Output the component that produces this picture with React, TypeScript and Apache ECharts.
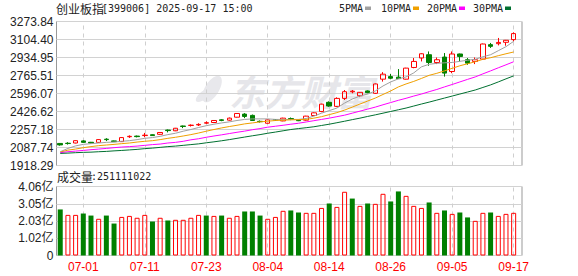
import React, { useEffect, useRef } from 'react';
import * as echarts from 'echarts';

const dates = ['06-26','06-27','06-30','07-01','07-02','07-03','07-04','07-07','07-08','07-09','07-10','07-11','07-14','07-15','07-16','07-17','07-18','07-21','07-22','07-23','07-24','07-25','07-28','07-29','07-30','07-31','08-01','08-04','08-05','08-06','08-07','08-08','08-11','08-12','08-13','08-14','08-15','08-18','08-19','08-20','08-21','08-22','08-25','08-26','08-27','08-28','08-29','09-01','09-02','09-03','09-04','09-05','09-08','09-09','09-10','09-11','09-12','09-15','09-16','09-17'];

const opens = [2126,2128,2130,2150,2137,2136,2166,2150,2143,2189,2195,2200,2208,2212,2252,2245,2290,2295,2300,2317,2323,2348,2345,2373,2402,2390,2334,2316,2350,2338,2360,2345,2345,2389,2427,2513,2475,2550,2612,2575,2620,2598,2731,2755,2750,2731,2841,2930,2961,2888,2939,2803,2968,2914,2898,2920,3056,3065,3078,3103];
const closes = [2112,2125,2152,2136,2130,2162,2162,2143,2181,2193,2190,2204,2200,2229,2247,2269,2286,2298,2305,2321,2342,2343,2364,2408,2380,2342,2331,2348,2346,2364,2353,2340,2383,2414,2496,2478,2550,2613,2618,2607,2604,2686,2778,2740,2736,2835,2898,2970,2888,2914,2788,2968,2945,2882,2914,3062,3040,3077,3097,3160];
const lows = [2105,2115,2127,2132,2126,2132,2148,2140,2140,2178,2183,2184,2197,2208,2230,2242,2270,2285,2290,2310,2318,2335,2340,2370,2364,2338,2322,2313,2342,2335,2345,2336,2341,2386,2420,2471,2468,2535,2598,2562,2598,2592,2708,2730,2733,2728,2834,2898,2857,2873,2755,2787,2898,2866,2873,2915,3025,3049,3046,3087];
const highs = [2130,2138,2155,2156,2140,2165,2175,2153,2184,2202,2200,2225,2211,2232,2257,2272,2294,2305,2316,2334,2345,2354,2370,2411,2411,2398,2342,2352,2356,2368,2370,2350,2386,2418,2500,2522,2560,2629,2629,2610,2625,2690,2797,2780,2826,2838,2930,2975,2992,2935,2977,2992,2972,2930,2935,3066,3072,3119,3100,3172];

const ma5 = [2048,2079,2103,2117,2124,2130,2136,2139,2146,2152,2162,2174,2181,2193,2209,2222,2241,2257,2276,2293,2307,2319,2329,2342,2352,2357,2357,2357,2352,2352,2352,2352,2361,2383,2411,2435,2459,2506,2544,2572,2591,2620,2667,2705,2734,2752,2790,2847,2871,2880,2885,2888,2899,2909,2918,2942,2961,2999,3037,3087];
const ma10 = [2044,2063,2073,2086,2096,2105,2111,2117,2124,2130,2139,2146,2152,2162,2174,2184,2196,2209,2224,2241,2257,2272,2285,2297,2310,2319,2329,2335,2342,2345,2348,2350,2352,2364,2378,2397,2416,2440,2468,2497,2525,2553,2587,2620,2658,2686,2710,2738,2767,2786,2809,2833,2857,2876,2895,2918,2933,2952,2970,2987];
const ma20 = [2039,2048,2054,2060,2067,2073,2079,2086,2092,2096,2101,2108,2115,2120,2130,2136,2146,2160,2170,2184,2196,2207,2219,2231,2242,2255,2266,2279,2288,2297,2307,2316,2328,2340,2352,2364,2378,2392,2411,2430,2449,2468,2490,2511,2532,2551,2572,2591,2613,2634,2658,2681,2705,2729,2752,2781,2809,2838,2866,2895];
const ma30 = [2032,2035,2039,2042,2044,2048,2051,2056,2060,2065,2070,2077,2082,2089,2096,2101,2108,2115,2122,2132,2141,2151,2162,2174,2186,2198,2209,2222,2233,2245,2257,2266,2274,2283,2295,2307,2321,2335,2350,2364,2380,2395,2411,2427,2443,2459,2478,2497,2515,2534,2553,2572,2591,2610,2629,2653,2677,2705,2734,2762];

// volume in 亿 (100 million)
const volumes = [2.71,2.39,2.39,2.47,2.35,2.16,2.35,1.88,2.27,2.33,2.22,2.39,2.00,2.22,2.06,2.10,2.10,2.22,2.39,2.35,2.33,2.35,2.22,2.33,2.59,2.59,2.35,2.16,2.27,2.63,2.65,2.53,2.51,2.51,2.80,3.06,2.86,3.75,3.35,2.92,3.06,3.04,3.63,3.18,3.77,3.51,2.92,2.80,3.12,2.51,2.65,2.45,2.53,2.24,2.04,2.51,2.53,2.33,2.45,2.5111];
const volumeUp = [0,1,1,0,0,1,0,0,1,1,1,1,0,1,0,1,1,1,1,0,1,0,1,1,0,0,0,1,1,1,0,0,1,1,1,0,1,1,0,1,0,1,1,0,0,1,1,1,0,1,0,1,0,0,1,1,0,1,1,1];

const priceTicks = ['1918.29','2087.74','2257.18','2426.62','2596.07','2765.51','2934.95','3104.40','3273.84'];
const volumeTicks = ['0','1.02亿','2.03亿','3.05亿','4.06亿'];
const labelDates = ['07-01','07-11','07-23','08-04','08-14','08-26','09-05','09-17'];
const legendNames = ['5PMA','10PMA','20PMA','30PMA'];

const UP = '#ff0000';
const DOWN = '#008000';
const MA_COLORS = ['#a0a0a0', '#f0a000', '#ff00ff', '#007030'];
const AXIS_FONT = "'Liberation Sans', 'Noto Sans CJK SC', sans-serif";
const MONO_FONT = "'DejaVu Sans Mono', 'Noto Sans CJK SC', monospace";
const CJK_FONT = "'Noto Sans CJK SC', sans-serif";

const frameLeft = 56.5;
const frameWidth = 465.5;
const dataLeft = 56.4;
const dataWidth = 461.1;
const pTop = 21.5;
const pHeight = 144;
const vTop = 186.5;
const vHeight = 69;

function buildOption(): any {
  const markLine = {
    silent: true,
    symbol: ['none', 'none'],
    z: 1,
    label: { show: false },
    lineStyle: { color: '#cfcfcf', type: [4, 4], width: 1 },
    data: labelDates.map((d) => ({ xAxis: d })),
    animation: false,
  };
  const candleData = dates.map((_, i) => [opens[i], closes[i], lows[i], highs[i]]);
  const volData = volumes.map((v, i) => ({
    value: v,
    itemStyle: volumeUp[i]
      ? { color: 'rgba(255,255,255,0)', borderColor: UP, borderWidth: 1 }
      : { color: DOWN, borderColor: DOWN, borderWidth: 0 },
  }));
  const maSeries = [ma5, ma10, ma20, ma30].map((d, k) => ({
    type: 'line',
    name: legendNames[k],
    xAxisIndex: 1,
    yAxisIndex: 1,
    data: d,
    showSymbol: false,
    symbol: 'none',
    z: 3,
    lineStyle: { color: MA_COLORS[k], width: 1 },
  }));

  const legendSwatchX = [365, 413, 459, 505];
  const legendGraphics: any[] = [];
  legendNames.forEach((n, k) => {
    legendGraphics.push({
      type: 'text',
      x: legendSwatchX[k] - 2,
      y: 8.5,
      style: {
        text: n,
        font: `10px ${MONO_FONT}`,
        fill: '#222',
        textAlign: 'right',
        textVerticalAlign: 'middle',
        align: 'right',
        verticalAlign: 'middle',
      },
    });
    legendGraphics.push({
      type: 'rect',
      shape: { x: legendSwatchX[k], y: 6.5, width: 6, height: 3.5 },
      style: { fill: MA_COLORS[k] },
    });
  });

  return {
    animation: false,
    backgroundColor: '#ffffff',
    grid: [
      { left: frameLeft, top: pTop, width: frameWidth, height: pHeight, show: true, borderColor: '#999', borderWidth: 1, backgroundColor: 'transparent' },
      { left: dataLeft, top: pTop, width: dataWidth, height: pHeight, show: false },
      { left: frameLeft, top: vTop, width: frameWidth, height: vHeight, show: true, borderColor: '#999', borderWidth: 1, backgroundColor: 'transparent' },
      { left: dataLeft, top: vTop, width: dataWidth, height: vHeight, show: false },
    ],
    xAxis: [
      { type: 'value', gridIndex: 0, min: 0, max: 1, show: false },
      {
        type: 'category', gridIndex: 1, data: dates, boundaryGap: true,
        axisLine: { show: false }, axisTick: { show: false }, axisLabel: { show: false }, splitLine: { show: false },
      },
      { type: 'value', gridIndex: 2, min: 0, max: 1, show: false },
      {
        type: 'category', gridIndex: 3, data: dates, boundaryGap: true,
        axisLine: { show: false }, axisTick: { show: false }, splitLine: { show: false },
        axisLabel: {
          interval: (_i: number, v: string) => labelDates.includes(v),
          color: UP, fontSize: 12, fontFamily: AXIS_FONT, margin: 5,
        },
      },
    ],
    yAxis: [
      {
        type: 'value', gridIndex: 0, min: 0, max: 8, interval: 1,
        axisLine: { show: false }, axisTick: { show: false },
        splitLine: { show: true, lineStyle: { color: '#d2d2d2', width: 1 } },
        axisLabel: {
          formatter: (v: number) => priceTicks[Math.round(v)] ?? '',
          color: '#222', fontSize: 12, fontFamily: AXIS_FONT, margin: 3,
        },
      },
      { type: 'value', gridIndex: 1, min: 1918.29, max: 3273.84, show: false, splitLine: { show: false } },
      {
        type: 'value', gridIndex: 2, min: 0, max: 4, interval: 1,
        axisLine: { show: false }, axisTick: { show: false },
        splitLine: { show: true, lineStyle: { color: '#d2d2d2', width: 1 } },
        axisLabel: {
          formatter: (v: number) => volumeTicks[Math.round(v)] ?? '',
          color: '#222', fontSize: 12, fontFamily: AXIS_FONT, margin: 3,
        },
      },
      { type: 'value', gridIndex: 3, min: 0, max: 4.06, show: false, splitLine: { show: false } },
    ],
    graphic: [
      {
        type: 'group',
        z: -10,
        silent: true,
        children: [
          {
            type: 'ellipse',
            shape: { cx: 0, cy: 0, rx: 7, ry: 15 },
            x: 212, y: 89, rotation: -0.55,
            style: { fill: '#e8e8ec' },
          },
          {
            type: 'ellipse',
            shape: { cx: 0, cy: 0, rx: 4, ry: 10 },
            x: 204, y: 95, rotation: -0.9,
            style: { fill: '#e8e8ec' },
          },
          {
            type: 'text',
            x: 229, y: 90,
            style: {
              text: '东方财富',
              font: `italic bold 36px ${CJK_FONT}`,
              fill: '#e6e6ea',
              textVerticalAlign: 'middle',
              verticalAlign: 'middle',
            },
          },
        ],
      },
      {
        type: 'text', x: 56, y: 8.5,
        style: { text: '创业板指', font: `12px ${CJK_FONT}`, fill: '#222', textVerticalAlign: 'middle', verticalAlign: 'middle' },
      },
      {
        type: 'text', x: 102, y: 8.5,
        style: { text: '[399006] 2025-09-17 15:00', font: `10px ${MONO_FONT}`, fill: '#222', textVerticalAlign: 'middle', verticalAlign: 'middle' },
      },
      {
        type: 'text', x: 57, y: 176.5,
        style: { text: '成交量', font: `12px ${CJK_FONT}`, fill: '#222', textVerticalAlign: 'middle', verticalAlign: 'middle' },
      },
      {
        type: 'text', x: 91, y: 176.5,
        style: { text: ':251111022', font: `10px ${MONO_FONT}`, fill: '#222', textVerticalAlign: 'middle', verticalAlign: 'middle' },
      },
      ...legendGraphics,
    ],
    series: [
      {
        type: 'candlestick',
        xAxisIndex: 1,
        yAxisIndex: 1,
        data: candleData,
        barWidth: 5,
        z: 2,
        itemStyle: {
          color: 'rgba(255,255,255,0)',
          color0: DOWN,
          borderColor: UP,
          borderColor0: DOWN,
          borderWidth: 1,
        },
        markLine,
      },
      ...maSeries,
      {
        type: 'bar',
        xAxisIndex: 3,
        yAxisIndex: 3,
        data: volData,
        barWidth: 5,
        markLine,
      },
    ],
  };
}

export default function App() {
  const ref = useRef<HTMLDivElement>(null);
  useEffect(() => {
    if (!ref.current) return;
    const chart = echarts.init(ref.current, null, { renderer: 'svg' });
    chart.setOption(buildOption());
    return () => chart.dispose();
  }, []);
  return (
    <div
      ref={ref}
      style={{ position: 'fixed', left: 0, top: 0, width: 578, height: 276, background: '#fff' }}
    />
  );
}
